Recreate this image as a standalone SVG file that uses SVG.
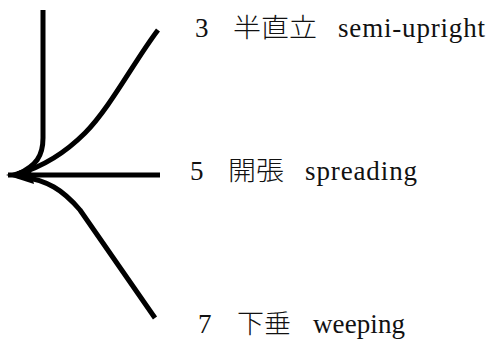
<svg xmlns="http://www.w3.org/2000/svg" width="497" height="340" viewBox="0 0 497 340">
<style>
.br{fill:none;stroke:#000;stroke-width:5;stroke-linecap:butt;stroke-linejoin:round}
.t{font-family:"Liberation Serif","Noto Sans CJK JP",serif;font-size:27px;fill:#111}
.c{font-family:"Noto Sans CJK JP",sans-serif;font-size:26px;fill:#111;font-weight:300}
</style>
<rect width="497" height="340" fill="#fff"/>
<g id="connectors">
<path class="br" d="M43,10 L43,138 C43,156 36,166 18,174"/>
<path class="br" d="M158,30 C135,60 110,108 85,133 C68,150 45,166 18,174"/>
<path class="br" d="M8,175 L160,175"/>
<path class="br" d="M18,176 C48,180 63,190 80,210 L155,318"/>
<polygon points="6,175 30,167 34,184" fill="#000"/>
</g>
<g id="semi-upright">
<text class="t" x="195" y="37">3</text>
<text class="c" x="233" y="37" textLength="84" lengthAdjust="spacingAndGlyphs">半直立</text>
<text class="t" x="338" y="37" textLength="147" lengthAdjust="spacing">semi-upright</text>
</g>
<g id="spreading">
<text class="t" x="190" y="180">5</text>
<text class="c" x="228" y="180" textLength="56" lengthAdjust="spacingAndGlyphs">開張</text>
<text class="t" x="305" y="180" textLength="112" lengthAdjust="spacing">spreading</text>
</g>
<g id="weeping">
<text class="t" x="198" y="333">7</text>
<text class="c" x="237" y="333" textLength="54" lengthAdjust="spacingAndGlyphs">下垂</text>
<text class="t" x="313" y="333" textLength="92" lengthAdjust="spacing">weeping</text>
</g>
</svg>
